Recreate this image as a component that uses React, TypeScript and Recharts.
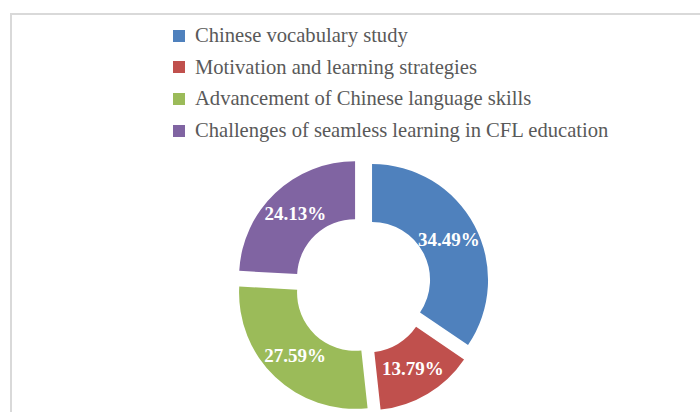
import { Pie, PieChart, Sector } from "recharts";

const categories = [
  "Chinese vocabulary study",
  "Motivation and learning strategies",
  "Advancement of Chinese language skills",
  "Challenges of seamless learning in CFL education",
];
const shares = [34.49, 13.79, 27.59, 24.13];
const colors = ["#4F81BD", "#C0504D", "#9BBB59", "#8064A2"];

const data = categories.map((name, i) => ({ name, value: shares[i], fill: colors[i] }));

const RAD = Math.PI / 180;
const EXPLODE = 10.8;
const SERIF = "'Liberation Serif', 'Times New Roman', Times, serif";

function ExplodedSector(props: any) {
  const { cx, cy, startAngle, endAngle } = props;
  const mid = (startAngle + endAngle) / 2;
  const dx = EXPLODE * Math.cos(-mid * RAD);
  const dy = EXPLODE * Math.sin(-mid * RAD);
  return <Sector {...props} cx={cx + dx} cy={cy + dy} stroke="none" />;
}

function SliceLabel(props: any) {
  const { cx, cy, midAngle, innerRadius, outerRadius, value } = props;
  const r = (innerRadius + outerRadius) / 2 + EXPLODE;
  const x = cx + r * Math.cos(-midAngle * RAD);
  const y = cy + r * Math.sin(-midAngle * RAD);
  return (
    <text
      x={x}
      y={y}
      fill="#ffffff"
      textAnchor="middle"
      dominantBaseline="central"
      fontFamily={SERIF}
      fontWeight="bold"
      fontSize={19}
    >
      {value.toFixed(2)}%
    </text>
  );
}

function LegendList() {
  return (
    <div style={{ position: "absolute", left: 173, top: 20, fontFamily: SERIF, fontSize: 20.6, color: "#595959" }}>
      {data.map((d) => (
        <div key={d.name} style={{ display: "flex", alignItems: "center", height: 31.6, whiteSpace: "nowrap" }}>
          <span style={{ display: "inline-block", width: 12, height: 12, background: d.fill, marginRight: 10 }} />
          <span>{d.name}</span>
        </div>
      ))}
    </div>
  );
}

export default function App() {
  return (
    <div style={{ position: "absolute", left: 0, top: 0, width: 700, height: 412, overflow: "hidden", background: "#fff" }}>
      <div
        style={{
          position: "absolute",
          left: 10,
          top: 13,
          width: 720,
          height: 440,
          borderLeft: "2px solid #d9d9d9",
          borderTop: "2px solid #d9d9d9",
        }}
      />
      <div style={{ position: "absolute", left: 0, top: 0 }}>
        <PieChart width={700} height={412} margin={{ top: 0, right: 0, bottom: 0, left: 0 }}>
          <Pie
            data={data}
            dataKey="value"
            nameKey="name"
            cx={362.5}
            cy={285}
            innerRadius={58}
            outerRadius={116}
            startAngle={90}
            endAngle={-270}
            shape={ExplodedSector}
            label={SliceLabel}
            labelLine={false}
            isAnimationActive={false}
          />
        </PieChart>
      </div>
      <LegendList />
    </div>
  );
}
